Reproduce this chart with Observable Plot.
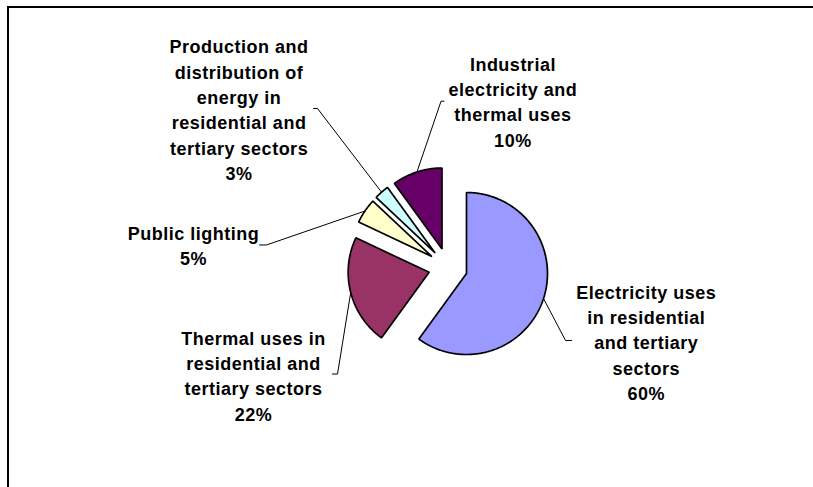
<!DOCTYPE html>
<html>
<head>
<meta charset="utf-8">
<script src="https://cdn.jsdelivr.net/npm/d3@7"></script>
<script src="https://cdn.jsdelivr.net/npm/@observablehq/plot@0.6"></script>
<style>
  html, body { margin: 0; padding: 0; background: #fff; overflow: hidden; }
  #wrap { position: relative; width: 813px; height: 487px; }
  #chart { position: absolute; left: 0; top: 0; }
  #frame { position: absolute; left: 7px; top: 6px; right: 0; bottom: 0;
           border-top: 2px solid #000; border-left: 2px solid #000; pointer-events: none; }
</style>
</head>
<body>
<div id="wrap"><div id="chart"></div><div id="frame"></div></div>
<script>
// ---- data ----
const categories = [
  "Electricity uses\nin residential\nand tertiary\nsectors",
  "Thermal uses in\nresidential and\ntertiary sectors",
  "Public lighting",
  "Production and\ndistribution of\nenergy in\nresidential and\ntertiary sectors",
  "Industrial\nelectricity and\nthermal uses"
];
const shares = [60, 22, 5, 3, 10];
const colors = ["#9999FF", "#993366", "#FFFFCC", "#CCFFFF", "#660066"];

// ---- layout (in pie-radius units, centre of pie = 0,0, y up) ----
const W = 813, H = 487;
const R_PX = 81;            // radius in pixels
const CX = 447.5, CY = 267; // pie centre in pixels
const EXPLODE = 0.24;       // explosion distance in radius units
// label block centres
const labelPos = [
  [2.447, -0.910],
  [-2.401, -1.323],
  [-3.142, 0.284],
  [-2.579, 1.963],
  [0.801, 2.062]
];
// leader-line elbow (two points beside the label)
const elbows = [
  [[1.525, -0.901], [1.451, -0.901]],
  [[-1.426, -1.315], [-1.364, -1.315]],
  [[-2.327, 0.278], [-2.241, 0.278]],
  [[-1.660, 1.963], [-1.611, 1.963]],
  [[-0.049, 2.053], [-0.086, 2.053]]
];

const arcs = d3.pie().sort(null).value(d => d)(shares);

const polys = arcs.flatMap((s, i) => {
  const m = (s.startAngle + s.endAngle) / 2;
  const ox = EXPLODE * Math.sin(m), oy = EXPLODE * Math.cos(m);
  const pts = [{i, x: ox, y: oy}];
  const n = Math.max(4, Math.ceil((s.endAngle - s.startAngle) / (Math.PI / 360)));
  for (let k = 0; k <= n; k++) {
    const t = s.startAngle + (s.endAngle - s.startAngle) * k / n;
    pts.push({i, x: ox + Math.sin(t), y: oy + Math.cos(t)});
  }
  return pts;
});

const leaders = arcs.flatMap((s, i) => {
  const m = (s.startAngle + s.endAngle) / 2;
  const r = 1 + EXPLODE;
  return [
    {i, x: elbows[i][0][0], y: elbows[i][0][1]},
    {i, x: elbows[i][1][0], y: elbows[i][1][1]},
    {i, x: r * Math.sin(m), y: r * Math.cos(m)}
  ];
});

const labels = arcs.map((s, i) => ({
  x: labelPos[i][0], y: labelPos[i][1],
  text: categories[i] + "\n" + shares[i] + "%"
}));

const chart = Plot.plot({
  width: W, height: H, margin: 0,
  style: {background: "transparent", fontFamily: "'Liberation Sans', Arial, sans-serif", letterSpacing: "0.5px"},
  x: {domain: [(0 - CX) / R_PX, (W - CX) / R_PX], axis: null},
  y: {domain: [(CY - H) / R_PX, CY / R_PX], axis: null},
  color: {type: "identity"},
  marks: [
    Plot.line(leaders, {x: "x", y: "y", z: "i", stroke: "black", strokeWidth: 1, curve: "linear"}),
    Plot.line(polys, {x: "x", y: "y", z: "i", fill: d => colors[d.i], stroke: "black",
      strokeWidth: 1.7, strokeLinejoin: "miter", curve: "linear-closed"}),
    Plot.text(labels, {x: "x", y: "y", text: "text", fontSize: 18, fontWeight: "bold",
      lineHeight: 1.41, fill: "black", textAnchor: "middle", lineAnchor: "middle"})
  ]
});
document.getElementById("chart").appendChild(chart);
</script>
</body>
</html>
